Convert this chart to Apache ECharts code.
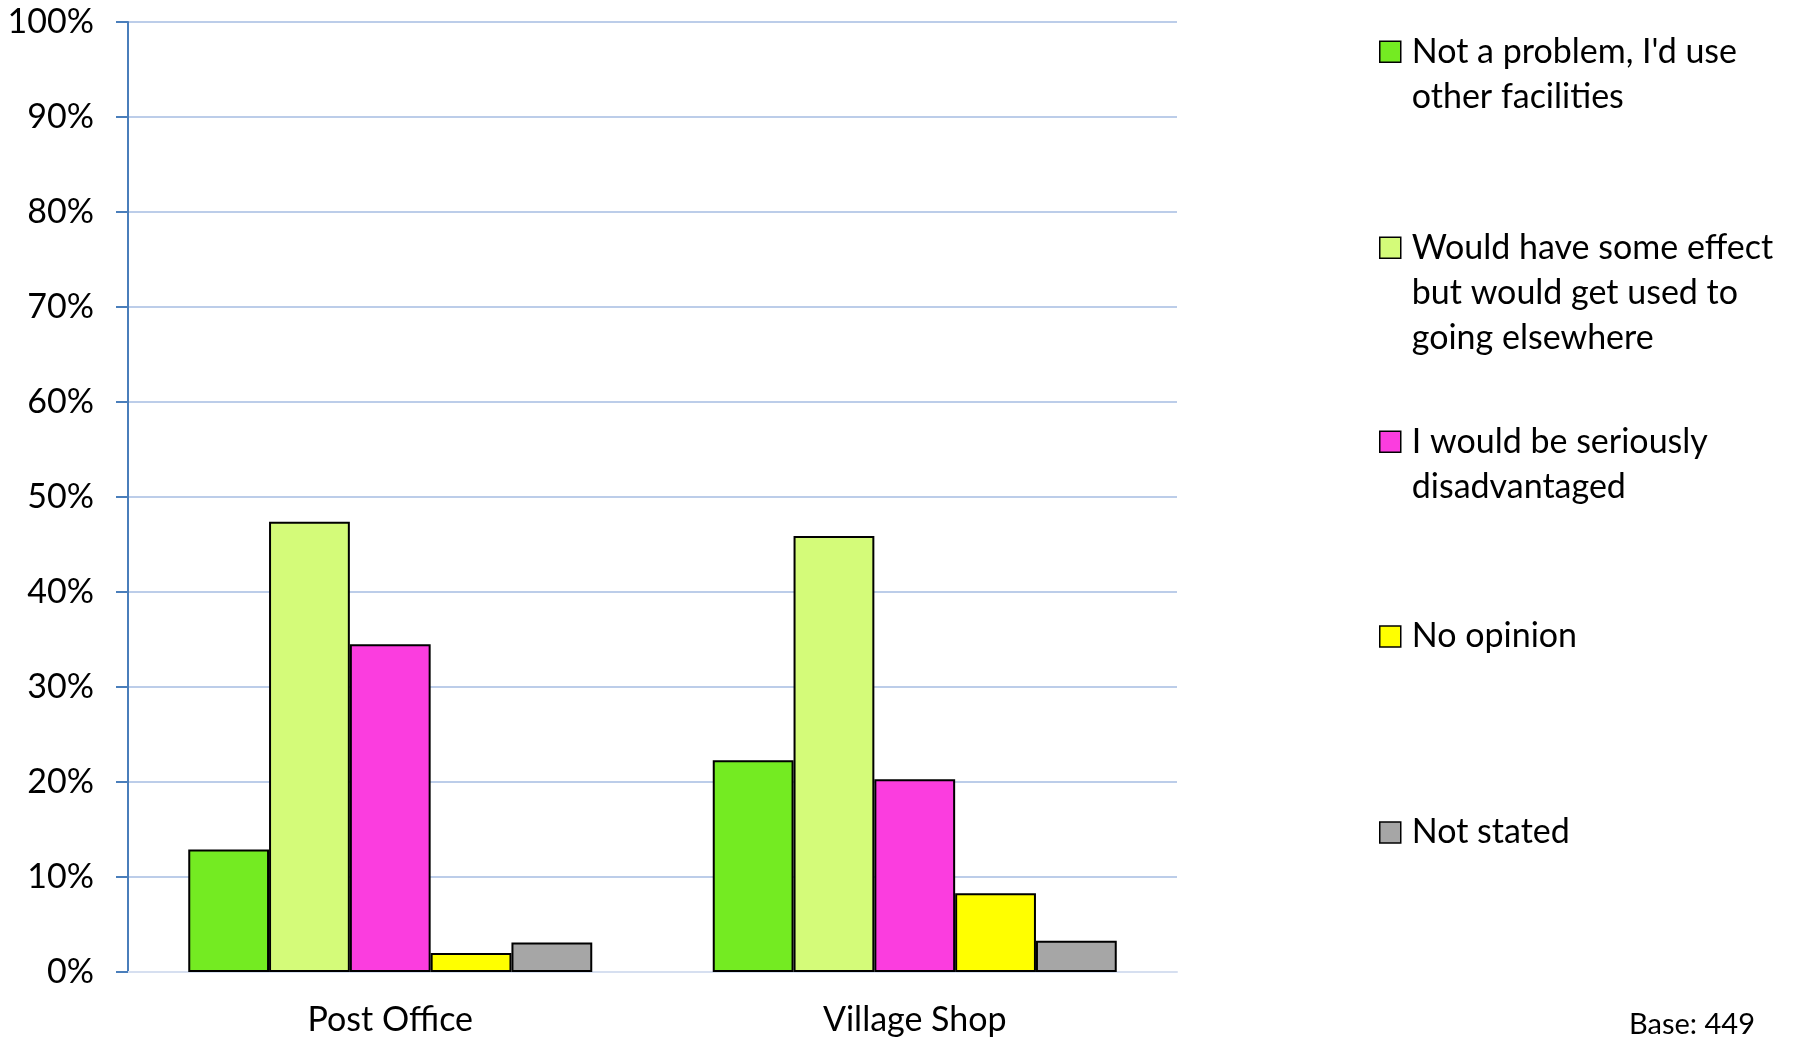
<!DOCTYPE html>
<html>
<head>
<meta charset="utf-8">
<script src="https://cdn.jsdelivr.net/npm/echarts@6/dist/echarts.min.js"></script>
<style>
html,body{margin:0;padding:0;background:#fff;}
#chart{width:1799px;height:1040px;}
</style>
</head>
<body>
<div id="chart"></div>
<script>
const categories = ['Post Office', 'Village Shop'];
const seriesNames = [
  "Not a problem, I'd use\nother facilities",
  "Would have some effect\nbut would get used to\ngoing elsewhere",
  "I would be seriously\ndisadvantaged",
  "No opinion",
  "Not stated"
];
const notAProblem = [12.9, 22.3];
const someEffect = [47.4, 45.9];
const seriouslyDisadvantaged = [34.5, 20.3];
const noOpinion = [2.0, 8.3];
const notStated = [3.1, 3.3];
const yTicks = [0, 10, 20, 30, 40, 50, 60, 70, 80, 90, 100];
const baseNote = 'Base: 449';

const seriesValues = [notAProblem, someEffect, seriouslyDisadvantaged, noOpinion, notStated];
const colors = ['#74eb22', '#d4fb79', '#fb3ddf', '#ffff00', '#a6a6a6'];

const FONT = 'Lato';
const LH = 45;
const iconCenters = [51.7, 247.7, 441.7, 636.5, 832.5];

const legends = seriesNames.map((name, i) => {
  const nLines = name.split('\n').length;
  const totalLines = 2 * nLines - 1;
  const top = iconCenters[i] - (totalLines * LH) / 2;
  return {
    data: [{ name: name, icon: 'rect' }],
    orient: 'vertical',
    left: 1379,
    top: top,
    padding: 0,
    itemWidth: 21,
    itemHeight: 21,
    selectedMode: false,
    formatter: n => '\n'.repeat(nLines - 1) + n,
    itemStyle: { borderColor: '#000', borderWidth: 1.5 },
    textStyle: {
      fontFamily: FONT,
      fontSize: 34,
      color: '#000',
      lineHeight: LH,
      padding: [0, 0, 0, 6]
    }
  };
});

const chart = echarts.init(document.getElementById('chart'));
chart.setOption({
  backgroundColor: '#fff',
  animation: false,
  title: {
    text: baseNote,
    right: 44,
    top: 1009,
    padding: 0,
    textStyle: { fontFamily: FONT, fontSize: 29, fontWeight: 'normal', color: '#000', lineHeight: 32 }
  },
  legend: legends,
  grid: { left: 128, right: 622, top: 22, bottom: 68, containLabel: false },
  xAxis: {
    type: 'category',
    data: categories,
    axisLine: { show: true, lineStyle: { color: '#d6dff0', width: 2 } },
    axisTick: { show: false },
    axisLabel: { fontFamily: FONT, fontSize: 34, color: '#000', margin: 31 },
    splitLine: { show: false }
  },
  yAxis: {
    type: 'value',
    min: yTicks[0],
    max: yTicks[yTicks.length - 1],
    interval: yTicks[1] - yTicks[0],
    axisLine: { show: true, lineStyle: { color: '#4a7ebb', width: 2 } },
    axisTick: { show: true, inside: false, length: 12, lineStyle: { color: '#4a7ebb', width: 2 } },
    axisLabel: { fontFamily: FONT, fontSize: 34, color: '#000', margin: 34, formatter: '{value}%' },
    splitLine: { show: true, lineStyle: { color: '#bccde9', width: 2 } }
  },
  series: seriesNames.map((name, i) => ({
    name: name,
    type: 'bar',
    data: seriesValues[i],
    barWidth: 80.8,
    barGap: '0%',
    itemStyle: { color: colors[i], borderColor: '#000', borderWidth: 2 }
  }))
});
</script>
</body>
</html>
